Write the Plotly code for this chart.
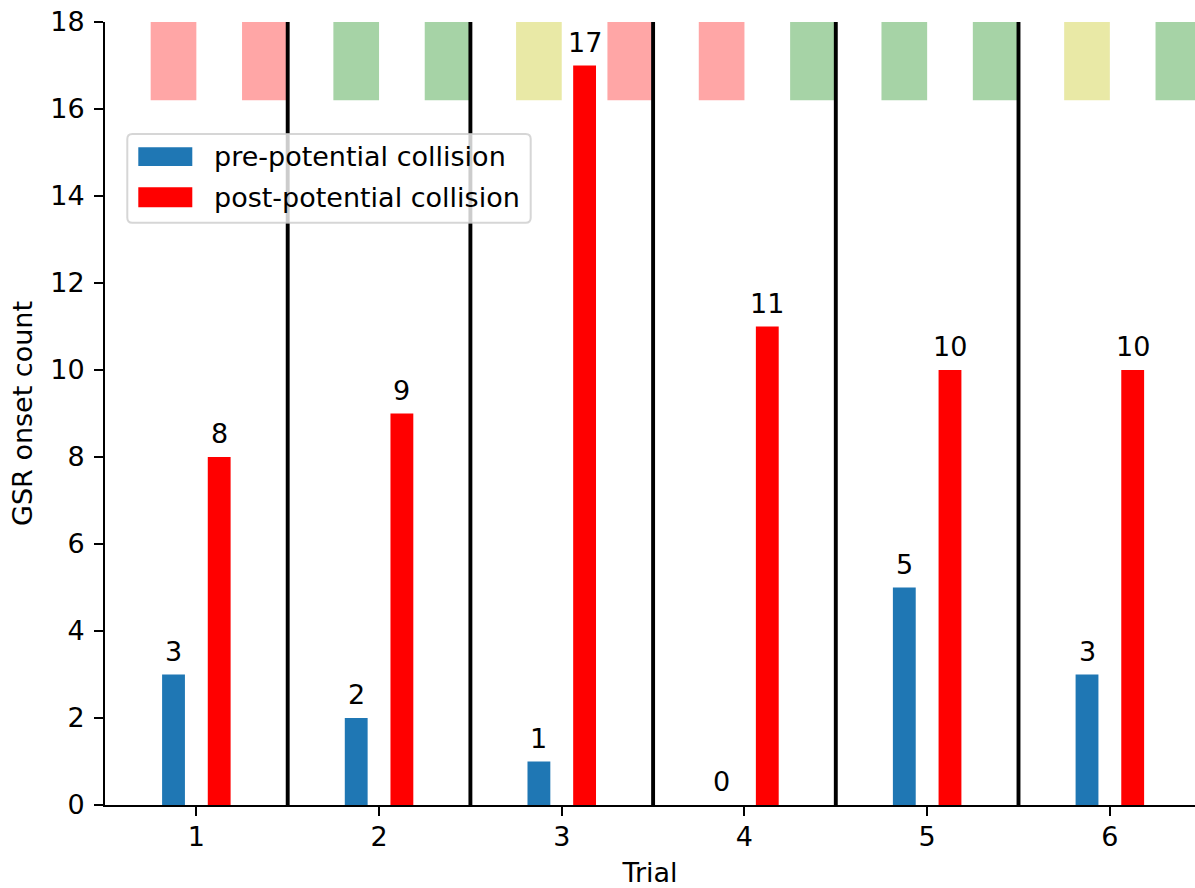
import plotly.graph_objects as go

# Data
trials = [1, 2, 3, 4, 5, 6]
tick_labels = ["1", "2", "3", "4", "5", "6"]
pre_counts = [3, 2, 1, 0, 5, 3]
post_counts = [8, 9, 17, 11, 10, 10]
# condition colour codes for the two segments shown per trial
cond_first = ["r", "g", "y", "r", "g", "y"]
cond_second = ["r", "g", "r", "g", "g", "g"]
separators = [1.5, 2.5, 3.5, 4.5, 5.5]

BLUE = "#1f77b4"
RED = "#ff0000"
COND_RGBA = {
    "r": "rgba(255,0,0,0.35)",
    "g": "rgba(0,128,0,0.35)",
    "y": "rgba(191,191,0,0.35)",
}
FONT = dict(family="DejaVu Sans", size=27, color="black")

W, H = 1195, 888
ML, MR, MT, MB = 105, 0, 22, 83
PX_PER_X = 182.7
x_lo = 0.5
x_hi = x_lo + (W - ML - MR) / PX_PER_X

bar_w = 0.125
fig = go.Figure()

# condition strips along the top
strip_base = 16.2
strip_top = 18.0
fig.add_trace(go.Bar(
    x=[t - 0.125 for t in trials],
    y=[strip_top - strip_base] * len(trials),
    base=[strip_base] * len(trials),
    width=0.25,
    marker=dict(color=[COND_RGBA[c] for c in cond_first], line=dict(width=0)),
    showlegend=False, hoverinfo="skip",
))
fig.add_trace(go.Bar(
    x=[t + 0.375 for t in trials],
    y=[strip_top - strip_base] * len(trials),
    base=[strip_base] * len(trials),
    width=0.25,
    marker=dict(color=[COND_RGBA[c] for c in cond_second], line=dict(width=0)),
    showlegend=False, hoverinfo="skip",
))

# count bars
pre_x = [t - bar_w for t in trials]
post_x = [t + bar_w for t in trials]
fig.add_trace(go.Bar(
    x=pre_x, y=pre_counts, width=bar_w, name="pre-potential collision",
    marker=dict(color=BLUE, line=dict(width=0)), showlegend=False,
))
fig.add_trace(go.Bar(
    x=post_x, y=post_counts, width=bar_w, name="post-potential collision",
    marker=dict(color=RED, line=dict(width=0)), showlegend=False,
))

annotations = []
for xs, vals in ((pre_x, pre_counts), (post_x, post_counts)):
    for xv, v in zip(xs, vals):
        annotations.append(dict(
            x=xv, y=v, xref="x", yref="y", text=str(v), showarrow=False,
            xanchor="center", yanchor="bottom", yshift=6, font=FONT,
        ))

shapes = []
# trial separators
for s in separators:
    shapes.append(dict(
        type="line", xref="x", yref="y", x0=s, x1=s, y0=0, y1=18,
        line=dict(color="black", width=3.9), layer="above",
    ))

# legend box (paper coordinates)
pw, ph = W - ML - MR, H - MT - MB


def px_x(p):
    return (p - ML) / pw


def px_y(p):
    return (H - MB - p) / ph


fx0, fx1, fy0, fy1 = px_x(127.3), px_x(530.7), px_y(222.7), px_y(134)
rx, ry = 5 / pw, 5 / ph
frame_path = (
    f"M{fx0 + rx},{fy0} L{fx1 - rx},{fy0} Q{fx1},{fy0} {fx1},{fy0 + ry} "
    f"L{fx1},{fy1 - ry} Q{fx1},{fy1} {fx1 - rx},{fy1} "
    f"L{fx0 + rx},{fy1} Q{fx0},{fy1} {fx0},{fy1 - ry} "
    f"L{fx0},{fy0 + ry} Q{fx0},{fy0} {fx0 + rx},{fy0} Z"
)
shapes.append(dict(
    type="path", xref="paper", yref="paper", path=frame_path,
    fillcolor="rgba(255,255,255,0.8)", line=dict(color="rgba(204,204,204,0.8)", width=2),
    layer="above",
))
legend_items = [("pre-potential collision", BLUE, 147.3, 166.0, 156.5),
                ("post-potential collision", RED, 187.3, 207.3, 197.0)]
for label, col, top, bot, mid in legend_items:
    shapes.append(dict(
        type="rect", xref="paper", yref="paper",
        x0=px_x(138.3), x1=px_x(192.3), y0=px_y(bot), y1=px_y(top),
        fillcolor=col, line=dict(width=0), layer="above",
    ))
    annotations.append(dict(
        x=px_x(212), y=px_y(mid), xref="paper", yref="paper", text=label,
        showarrow=False, xanchor="left", yanchor="middle", font=FONT,
    ))

fig.update_layout(
    width=W, height=H,
    margin=dict(l=ML, r=MR, t=MT, b=MB, pad=0),
    plot_bgcolor="white", paper_bgcolor="white",
    barmode="overlay",
    font=FONT,
    shapes=shapes,
    annotations=annotations,
    showlegend=False,
)
fig.update_xaxes(
    range=[x_lo, x_hi], tickmode="array", tickvals=trials, ticktext=tick_labels,
    showgrid=False, zeroline=False, showline=True, linecolor="black", linewidth=2,
    ticks="outside", ticklen=9, tickwidth=2, tickcolor="black",
    ticklabelstandoff=-2,
    tickfont=FONT, title=dict(text="Trial", font=FONT, standoff=14),
    automargin=False,
)
fig.update_yaxes(
    range=[0, 18], tickmode="array", tickvals=list(range(0, 19, 2)),
    showgrid=False, zeroline=False, showline=True, linecolor="black", linewidth=2,
    ticks="outside", ticklen=9, tickwidth=2, tickcolor="black",
    ticklabelstandoff=4,
    tickfont=FONT, title=dict(text="GSR onset count", font=FONT, standoff=10),
    automargin=False,
)

fig.write_html("out.html")
